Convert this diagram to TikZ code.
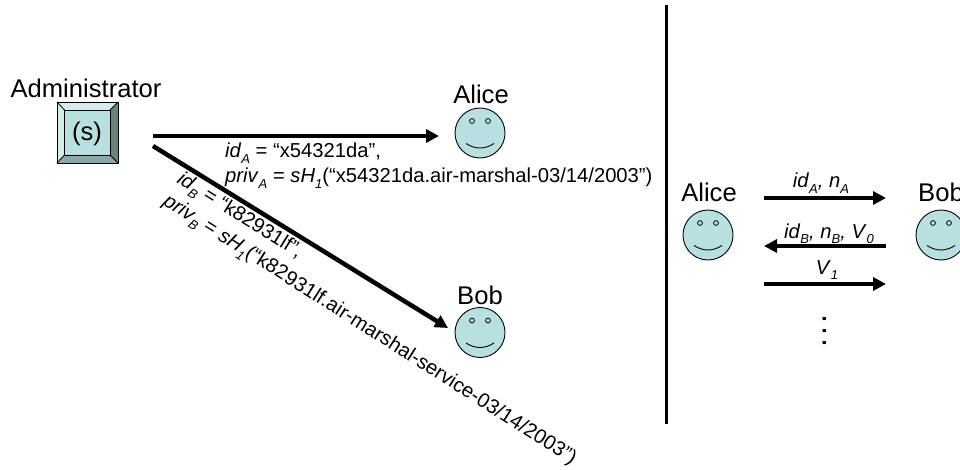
\documentclass[tikz,border=0pt]{standalone}
\usepackage{fontspec}
\setmainfont{Liberation Sans}
\usetikzlibrary{arrows.meta}
\newcommand{\sbs}[1]{\raisebox{-0.28em}{\fontsize{13}{13}\selectfont\textit{#1}}}
\newcommand{\bigt}{\fontsize{25.6}{28}\selectfont}
\newcommand{\lab}{\fontsize{20.2}{23}\selectfont}
\definecolor{facefill}{HTML}{B9E0E1}
\tikzset{
 face/.style={circle,draw=black,line width=0.9pt,fill=facefill,minimum size=50pt,inner sep=0pt},
 who/.style={font=\bigt,inner sep=0pt,anchor=base},
 bigarrow/.style={line width=4.5pt,-{Triangle[length=13pt,width=13pt]}},
 msgarrow/.style={line width=4pt,-{Triangle[length=13pt,width=13pt]}},
 lbl/.style={font=\lab,inner sep=0pt,anchor=base west},
 mlbl/.style={font=\lab,inner sep=0pt,anchor=base},
 eye/.style={draw=black,line width=0.8pt,fill=facefill},
 smile/.style={draw=black,line width=0.9pt}
}
\newcommand{\smiley}[3]{%
 \node[face] (#3) at (#1,#2) {};
 \draw[eye] (#1-8,#2-12) circle (2.4);
 \draw[eye] (#1+8,#2-12) circle (2.4);
 \draw[smile] (#1-14,#2+10.5) .. controls (#1-5,#2+16.5) and (#1+5,#2+16.5) .. (#1+14,#2+10.5);
}
\begin{document}
\begin{tikzpicture}[x=1pt,y=-1pt]
\useasboundingbox (0,0) rectangle (960,470);
\clip (0,0) rectangle (960,470);
% key
\fill[facefill] (57,102) rectangle (118,163);
\fill[fill=facefill!60!white] (57,102) -- (118,102) -- (110,110) -- (64.5,110) -- (64.5,155) -- (57,163) -- cycle;
\fill[fill=facefill!55!black!95] (118,102) -- (118,163) -- (110,155) -- (110,110) -- cycle;
\fill[fill=facefill!75!black] (57,163) -- (118,163) -- (110,155) -- (64.5,155) -- cycle;
\draw[line width=0.8pt] (57,102) rectangle (118,163);
\draw[line width=0.8pt] (64.5,110) rectangle (110,155);
\draw[line width=0.8pt] (57,102) -- (64.5,110) (118,102) -- (110,110) (57,163) -- (64.5,155) (118,163) -- (110,155);
\node[font=\bigt,inner sep=0pt,anchor=base] (s) at (87,141) {(s)};
\node[who] (admin) at (86,98) {Administrator};
% left
\smiley{480}{133}{aliceface}
\smiley{480}{332.5}{bobface}
\node[who] (alice) at (481,104) {Alice};
\node[who] (bob) at (480,304) {Bob};
\coordinate (a1) at (153,136);
\coordinate (a2) at (439,136);
\coordinate (b1) at (153,146);
\coordinate (b2) at (448,328);
\draw[bigarrow] (a1) -- (a2);
\draw[bigarrow] (b1) -- (b2);
\node[lbl] (l1) at (225,158) {\textit{id}\sbs{A} = “x54321da”,};
\node[lbl] (l2) at (225,183) {\textit{priv}\sbs{A} = \textit{sH}\sbs{1}(“x54321da.air-marshal-03/14/2003”)};
\node[lbl,rotate=-32] (l3) at (176,182) {\textit{id}\sbs{B} = “k82931lf”,};
\node[lbl,rotate=-32.5] (l4) at (162,204) {\textit{priv}\sbs{B} = \textit{sH}\sbs{1}(“k82931lf.air-marshal-service-03/14/2003”)};
% divider
\coordinate (d1) at (666,5);
\coordinate (d2) at (666,424);
\draw[line width=3pt] (d1) -- (d2);
% right
\smiley{708}{235}{alicer}
\smiley{941}{235}{bobr}
\node[who] (alicet) at (709,202) {Alice};
\node[who] (bobt) at (941,202) {Bob};
\coordinate (m1a) at (764,198);
\coordinate (m1b) at (886,198);
\coordinate (m2a) at (886,246);
\coordinate (m2b) at (764,246);
\coordinate (m3a) at (764,284);
\coordinate (m3b) at (886,284);
\draw[msgarrow] (m1a) -- (m1b);
\draw[msgarrow] (m2a) -- (m2b);
\draw[msgarrow] (m3a) -- (m3b);
\node[mlbl] (t1) at (821,188) {\textit{id}\sbs{A}\textit{, n}\sbs{A}};
\node[mlbl] (t2) at (829,238) {\textit{id}\sbs{B}\textit{, n}\sbs{B}\textit{, V}\sbs{0}};
\node[mlbl] (t3) at (827,274) {\textit{V}\sbs{1}};
\node[rotate=90,font=\fontsize{32}{32}\selectfont,inner sep=0pt] (dots) at (825,331) {.\hspace{3.1pt}.\hspace{3.1pt}.};
\end{tikzpicture}
\end{document}
